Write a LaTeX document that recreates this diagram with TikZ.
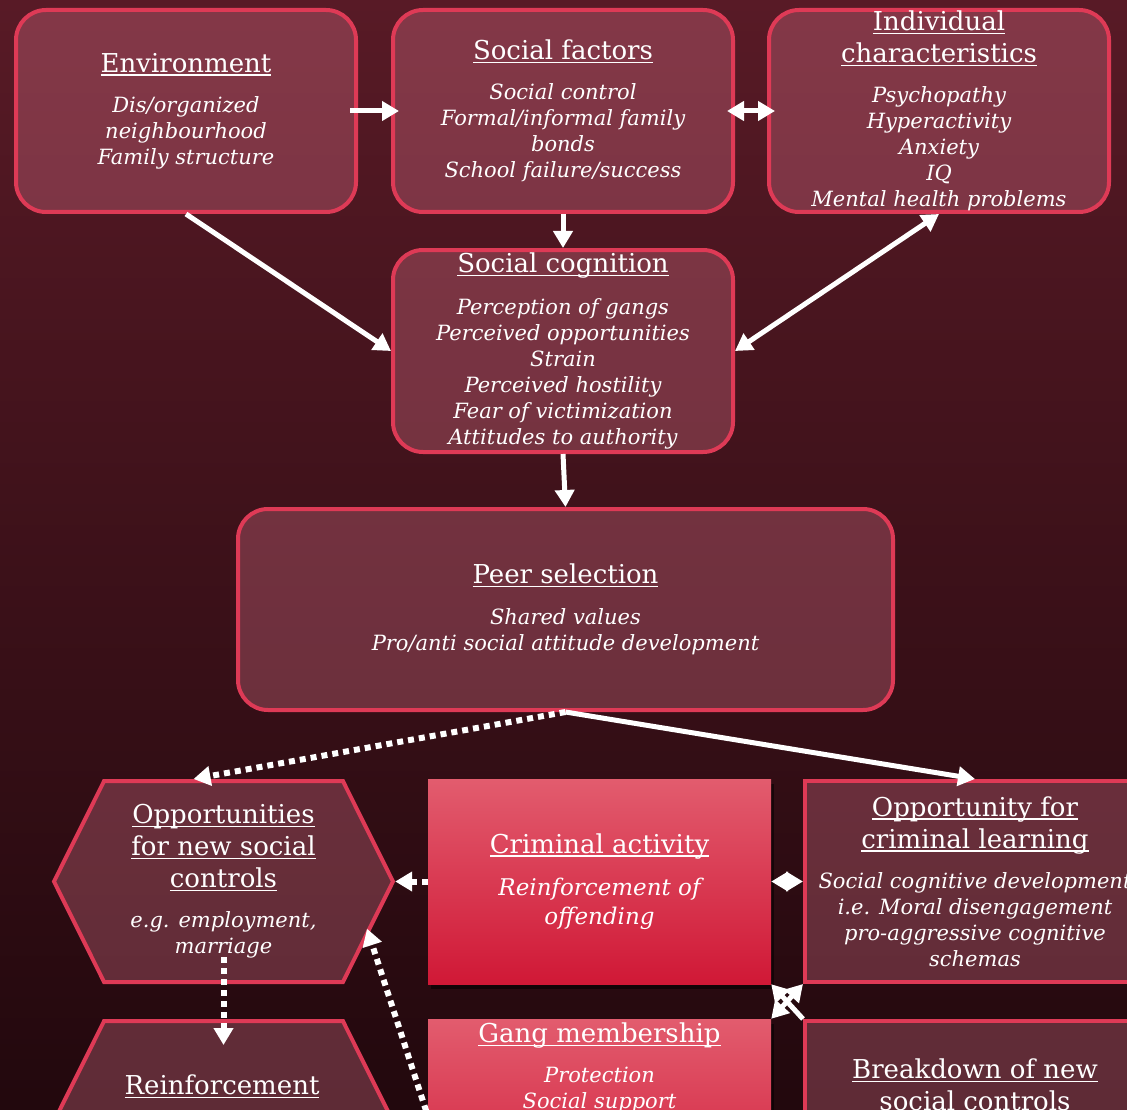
\documentclass[tikz,border=0pt]{standalone}
\usepackage{fontspec}
\setmainfont{DejaVu Serif}
\usetikzlibrary{arrows.meta,shapes.symbols,shadows}
\definecolor{bgtop}{RGB}{88,26,38}
\definecolor{bgmid}{RGB}{64,18,28}
\definecolor{bgbot}{RGB}{34,8,13}
\definecolor{edge}{RGB}{222,58,86}
\definecolor{tint}{RGB}{235,125,150}
\definecolor{crimtop}{RGB}{226,92,110}
\definecolor{crimbot}{RGB}{208,24,54}
\newcommand{\bodyfont}{\fontsize{21}{26}\selectfont\itshape}
\newcommand{\hd}[1]{{\fontsize{26}{32}\selectfont\upshape\setbox0\hbox{#1}%
  \rlap{\rule[-3.5pt]{\wd0}{1.4pt}}\box0}}

\begin{document}
\begin{tikzpicture}[x=1pt,y=-1pt,>={Triangle[length=17pt,width=19pt]},
    box/.style={draw=edge, line width=4pt, fill=tint, fill opacity=0.3,
      text opacity=1, text=white, align=center, font=\bodyfont, inner sep=0pt},
    rbox/.style={box, rounded corners=30pt, minimum width=340pt, minimum height=202pt},
    hexa/.style={box, signal, signal to=west and east, signal pointer angle=127,
      minimum width=339pt, minimum height=201pt},
    redbox/.style={top color=crimtop, bottom color=crimbot, text=white, align=center,
      font=\fontsize{23}{29}\selectfont\itshape, inner sep=0pt, minimum width=343pt, minimum height=205pt,
      drop shadow={fill=black, opacity=0.5, shadow xshift=3pt, shadow yshift=-5pt}},
    txt/.style={text=white, align=center, font=\bodyfont, inner sep=0pt},
    link/.style={white, line width=5pt},
    dots/.style={white, line width=6pt, dash pattern=on 6pt off 5pt}]
    \useasboundingbox (0,0) rectangle (1127,1110);
    \clip (0,0) rectangle (1127,1110);
    \shade[top color=bgtop, middle color=bgmid, bottom color=bgbot] (0,0) rectangle (1127,1110);

    \node[rbox] (env) at (186,111) {\hd{Environment}\\[14pt]Dis/organized\\neighbourhood\\Family structure};
    \node[rbox] (soc) at (563,111) {\hd{Social factors}\\[14pt]Social control\\Formal/informal family\\bonds\\School failure/success};
    \node[rbox] (ind) at (939,111) {\hd{Individual}\\[6pt]\hd{characteristics}\\[14pt]Psychopathy\\Hyperactivity\\Anxiety\\IQ\\Mental health problems};
    \node[rbox] (cog) at (563,351) {\hd{Social cognition}\\[16pt]Perception of gangs\\Perceived opportunities\\Strain\\Perceived hostility\\Fear of victimization\\Attitudes to authority};
    \node[rbox, minimum width=655pt, minimum height=201pt] (peer) at (565.5,609.5) {\hd{Peer selection}\\[15pt]Shared values\\Pro/anti social attitude development};

    \node[hexa] (opp) at (223.5,881.5) {\hd{Opportunities}\\[6pt]\hd{for new social}\\[6pt]\hd{controls}\\[14pt]e.g. employment,\\marriage};
    \node[redbox] (crim) at (599.5,881.5) {\hd{Criminal activity}\\[13pt]Reinforcement of\\offending};
    \node[box, minimum width=340pt, minimum height=201pt] (learn) at (975,881.5) {\hd{Opportunity for}\\[6pt]\hd{criminal learning}\\[14pt]Social cognitive development\\i.e. Moral disengagement\\pro-aggressive cognitive\\schemas};

    \node[hexa] (reinf) at (223.5,1121.5) {};
    \node[redbox] (gang) at (599.5,1121.5) {};
    \node[box, minimum width=340pt, minimum height=201pt] (brk) at (975,1121.5) {};
    \node[txt, anchor=north] (reinftxt) at (222,1075) {\hd{Reinforcement}};
    \node[txt, anchor=north] (gangtxt) at (599.5,1023) {\hd{Gang membership}\\[14pt]Protection\\Social support};
    \node[txt, anchor=north] (brktxt) at (975,1059) {\hd{Breakdown of new}\\[6pt]\hd{social controls}};
    \coordinate (gangtail) at (433,1132);

    \draw[link,->,shorten <=-8pt,shorten >=-8pt] (env.east) -- (soc.west);
    \draw[link,<->,shorten <=-8pt,shorten >=-8pt] (soc.east) -- (ind.west);
    \draw[link,->] (soc.south) -- (cog.north);
    \draw[link,->] (env.south) -- (cog.west);
    \draw[link,<->] (ind.south) -- (cog.east);
    \draw[link,->] (cog.south) -- (peer.north);
    \draw[dots,->] (peer.south) -- ([xshift=-30pt]opp.north);
    \draw[link,->] (peer.south) -- (learn.north);
    \draw[dots,->] (crim.west) -- (opp.east);
    \draw[link,<->] (crim.east) -- (learn.west);
    \draw[link,<->] (gang.north east) -- (learn.south west);
    \draw[link,->] (brk.north west) -- (crim.south east);
    \draw[dots,->,shorten <=-27pt,shorten >=-26pt] (opp.south) -- (reinf.north);
    \draw[dots,->,shorten >=-6pt] (gangtail) -- (opp.-20);
  \end{tikzpicture}
\end{document}
